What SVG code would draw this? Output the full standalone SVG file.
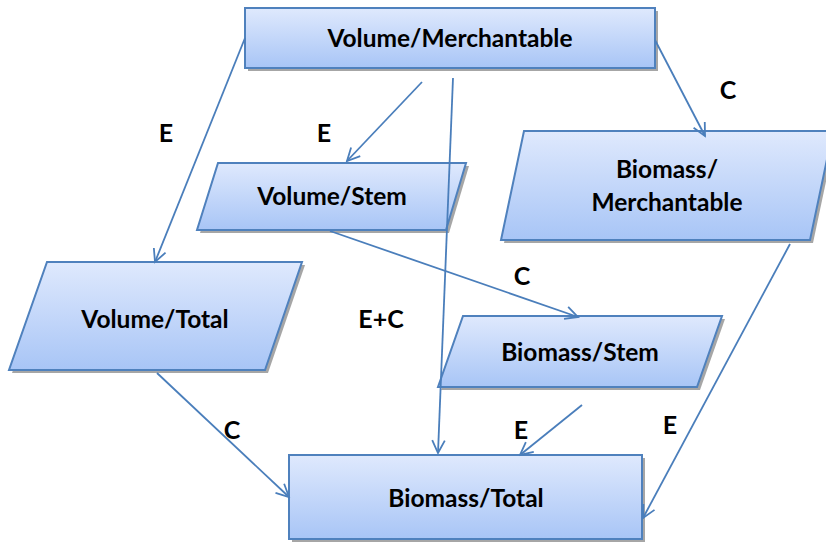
<svg xmlns="http://www.w3.org/2000/svg" width="826" height="543" viewBox="0 0 826 543">
<defs>
<linearGradient id="g" x1="0" y1="0" x2="0" y2="1">
<stop offset="0" stop-color="#dfe9fd"/>
<stop offset="1" stop-color="#a8c5f6"/>
</linearGradient>
<marker id="a" viewBox="0 0 20 20" refX="18" refY="10" markerWidth="18" markerHeight="18" markerUnits="userSpaceOnUse" orient="auto">
<path d="M4,3 L18,10 L4,17" fill="none" stroke="#4a7ebb" stroke-width="2"/>
</marker>
</defs>
<style>
.n{fill:url(#g);stroke:#4f81bd;stroke-width:2}
.s{fill:#a6a6a6}
.t{font-family:Lato,"Liberation Sans",sans-serif;font-weight:bold;font-size:24.5px;fill:#000;text-anchor:middle}
.c{stroke:#4a7ebb;stroke-width:1.8;fill:none;marker-end:url(#a)}
.l{font-family:Lato,"Liberation Sans",sans-serif;font-weight:bold;font-size:25px;fill:#000;text-anchor:middle}
</style>
<rect width="826" height="543" fill="#fff"/>
<g id="volume-merchantable">
<rect class="s" x="248" y="11" width="410" height="60"/>
<rect class="n" x="245" y="8" width="410" height="60"/>
<text class="t" x="450" y="47">Volume/Merchantable</text>
</g>
<g id="volume-stem">
<polygon class="s" points="221,166 469,166 449,233 200,233"/>
<polygon class="n" points="218,163 466,163 446,230 197,230"/>
<text class="t" x="332" y="205">Volume/Stem</text>
</g>
<g id="biomass-merchantable">
<polygon class="s" points="527,134 836,134 813,243 504,243"/>
<polygon class="n" points="524,131 833,131 810,240 501,240"/>
<text class="t" x="667" y="178">Biomass/</text>
<text class="t" x="667" y="211">Merchantable</text>
</g>
<g id="volume-total">
<polygon class="s" points="50,265 305,265 268,373 12,373"/>
<polygon class="n" points="47,262 302,262 265,370 9,370"/>
<text class="t" x="155" y="328">Volume/Total</text>
</g>
<g id="biomass-stem">
<polygon class="s" points="466,319 725,319 700,390 441,390"/>
<polygon class="n" points="463,316 722,316 697,387 438,387"/>
<text class="t" x="580" y="361">Biomass/Stem</text>
</g>
<g id="biomass-total">
<rect class="s" x="292" y="458" width="353" height="84"/>
<rect class="n" x="289" y="455" width="353" height="84"/>
<text class="t" x="466" y="507">Biomass/Total</text>
</g>
<g id="connectors">
<line class="c" x1="245" y1="38" x2="155" y2="262"/>
<line class="c" x1="422" y1="82" x2="347" y2="161"/>
<line class="c" x1="453" y1="78" x2="438" y2="453"/>
<line class="c" x1="655" y1="40" x2="705" y2="136"/>
<line class="c" x1="330" y1="231" x2="578" y2="317"/>
<line class="c" x1="157" y1="373" x2="289" y2="497"/>
<line class="c" x1="582" y1="405" x2="520" y2="455"/>
<line class="c" x1="790" y1="244" x2="643" y2="518"/>
</g>
<g id="labels">
<text class="l" x="166" y="142">E</text>
<text class="l" x="324" y="142">E</text>
<text class="l" x="381" y="328">E+C</text>
<text class="l" x="728" y="99">C</text>
<text class="l" x="522" y="285">C</text>
<text class="l" x="232" y="439">C</text>
<text class="l" x="521" y="439">E</text>
<text class="l" x="670" y="434">E</text>
</g>
</svg>
